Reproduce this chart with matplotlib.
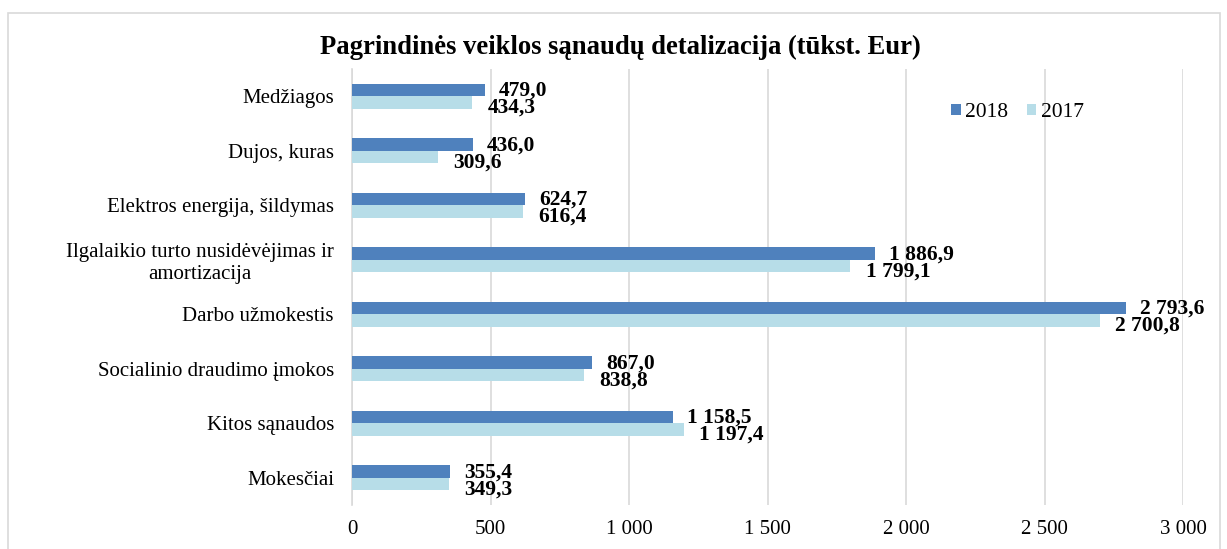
import matplotlib
matplotlib.use("Agg")
import matplotlib.pyplot as plt
import numpy as np
from matplotlib.patches import Rectangle

categories = ["Medžiagos", "Dujos, kuras", "Elektros energija, šildymas",
              "Ilgalaikio turto nusidėvėjimas ir\namortizacija", "Darbo užmokestis",
              "Socialinio draudimo įmokos", "Kitos sąnaudos", "Mokesčiai"]
v2018 = [479.0, 436.0, 624.7, 1886.9, 2793.6, 867.0, 1158.5, 355.4]
v2017 = [434.3, 309.6, 616.4, 1799.1, 2700.8, 838.8, 1197.4, 349.3]
xticks = [0, 500, 1000, 1500, 2000, 2500, 3000]

plt.rcParams['font.family'] = ['Liberation Serif', 'DejaVu Serif']

def fmt(v, dec=1):
    s = f"{v:,.{dec}f}"
    return s.replace(",", " ").replace(".", ",")

fig = plt.figure(figsize=(12.27, 5.49), dpi=100)
fig.patches.append(Rectangle((8/1227, -0.1), (1220-8)/1227, 1.1 - 13/549,
                             transform=fig.transFigure, fill=False,
                             edgecolor='#d9d9d9', linewidth=1.2))
ax = fig.add_axes([352/1227, 1-505/549, 831/1227, 436/549])

n = len(categories)
y = np.arange(n)
h = 0.225
c18 = '#4F81BD'
c17 = '#B7DDE8'
ax.barh(y - h/2, v2018, height=h, color=c18, label='2018', zorder=3)
ax.barh(y + h/2, v2017, height=h, color=c17, label='2017', zorder=3)

for yi, v in zip(y, v2018):
    ax.annotate(fmt(v), (v, yi - h/2), xytext=(10, -0.7), textcoords='offset points',
                va='center', ha='left', fontsize=15.5, fontweight='bold')
for yi, v in zip(y, v2017):
    ax.annotate(fmt(v), (v, yi + h/2), xytext=(11, -4), textcoords='offset points',
                va='center', ha='left', fontsize=15.5, fontweight='bold')

ax.set_ylim(n - 0.5, -0.5)
ax.set_xlim(0, 3000)
ax.set_yticks(y)
ax.set_yticklabels(categories, fontsize=15, multialignment='center')
ax.set_xticks(xticks)
ax.set_xticklabels([fmt(t, 0) for t in xticks], fontsize=15)
ax.tick_params(axis='both', length=0)
ax.tick_params(axis='x', pad=10.5)
ax.tick_params(axis='y', pad=13)
ax.grid(axis='x', color='#d9d9d9', linewidth=1.2, zorder=0)
for s in ['top', 'right', 'bottom']:
    ax.spines[s].set_visible(False)
ax.spines['left'].set_color('#d9d9d9')
ax.spines['left'].set_linewidth(1.2)

ax.legend(loc='center left', bbox_to_anchor=(0.721, 0.90), ncol=2, frameon=False,
          fontsize=15.5, handlelength=0.45, handleheight=0.45, handletextpad=0.2,
          columnspacing=0.85, borderaxespad=0, borderpad=0)

fig.text(620/1227, 1-47/549, "Pagrindinės veiklos sąnaudų detalizacija (tūkst. Eur)",
         ha='center', va='center', fontsize=19.2, fontweight='bold')

fig.savefig("out.png", dpi=100)
